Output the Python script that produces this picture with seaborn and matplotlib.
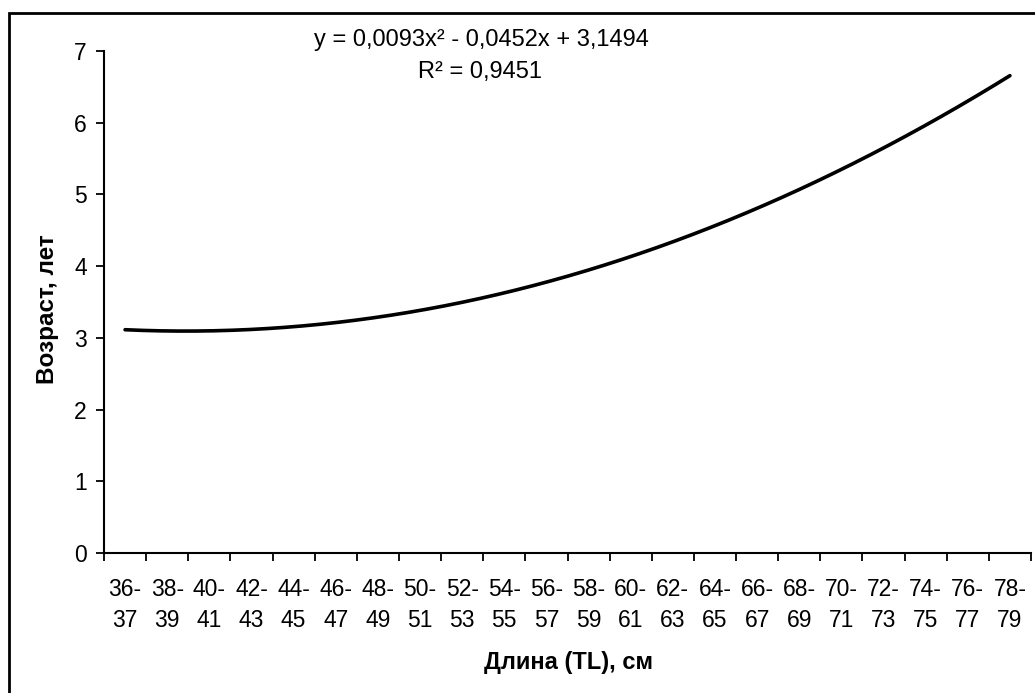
import numpy as np
import pandas as pd
import matplotlib
matplotlib.use("Agg")
import matplotlib.pyplot as plt
from matplotlib.patches import Rectangle
import seaborn as sns

# Length classes (TL, cm) shown on the x axis
length_classes = ["36-\n37", "38-\n39", "40-\n41", "42-\n43", "44-\n45", "46-\n47",
                  "48-\n49", "50-\n51", "52-\n53", "54-\n55", "56-\n57", "58-\n59",
                  "60-\n61", "62-\n63", "64-\n65", "66-\n67", "68-\n69", "70-\n71",
                  "72-\n73", "74-\n75", "76-\n77", "78-\n79"]

# Polynomial trend coefficients (a*x^2 + b*x + c) and fit quality
trend_coefs = [0.0093, -0.0452, 3.1494]
r_squared = 0.9451

y_ticks = [0, 1, 2, 3, 4, 5, 6, 7]

sns.set_theme(style="white")
plt.rcParams["font.family"] = ["Liberation Sans", "DejaVu Sans"]
plt.rcParams["text.color"] = "black"
plt.rcParams["xtick.color"] = "black"
plt.rcParams["ytick.color"] = "black"
plt.rcParams["axes.labelcolor"] = "black"

fig = plt.figure(figsize=(10.35, 6.93), dpi=100)
ax = fig.add_axes([104 / 1035, 1 - 553 / 693, (1031 - 104) / 1035, (553 - 51) / 693])

n = len(length_classes)
xs = np.linspace(1, n, 400)
trend = np.polyval(trend_coefs, xs)
df = pd.DataFrame({"class_idx": xs, "age": trend})
sns.lineplot(data=df, x="class_idx", y="age", ax=ax, color="black", lw=2.6)

ax.set_xlim(0.5, n + 0.5)
ax.set_ylim(0, 7)

# category boundaries carry the tick marks, centres carry the labels
ax.set_xticks(np.arange(0.5, n + 1, 1.0))
ax.set_xticklabels([])
ax.set_xticks(np.arange(1, n + 1), minor=True)
ax.set_xticklabels(length_classes, minor=True, fontsize=16.5, linespacing=1.45,
                   color="black")
ax.tick_params(axis="x", which="major", direction="out", length=5.5, width=1.3,
               color="black", bottom=True)
ax.tick_params(axis="x", which="minor", length=0, pad=18, labelsize=16.5,
               labelcolor="black")

ax.set_yticks(y_ticks)
ax.set_yticklabels([str(v) for v in y_ticks], fontsize=16.5, color="black")
ax.tick_params(axis="y", direction="out", length=5.5, width=1.3, color="black",
               left=True, pad=7, labelcolor="black")

for side in ["top", "right"]:
    ax.spines[side].set_visible(False)
for side in ["left", "bottom"]:
    ax.spines[side].set_color("black")
    ax.spines[side].set_linewidth(1.5)

ax.set_xlabel("")
ax.set_ylabel("")
ax.grid(False)

fig.text(48 / 1035, 1 - 309 / 693, "Возраст, лет", rotation=90, ha="center",
         va="center", fontsize=17.5, fontweight="bold", color="black")
fig.text(568 / 1035, 1 - 662 / 693, "Длина (TL), см", ha="center", va="center",
         fontsize=17, fontweight="bold", color="black")

a, b, c = trend_coefs
eq = "y = {}x\u00b2 - {}x + {}".format(f"{a:.4f}".replace(".", ","),
                                      f"{abs(b):.4f}".replace(".", ","),
                                      f"{c:.4f}".replace(".", ","))
fig.text(481 / 1035, 1 - 40 / 693, eq, ha="center", va="center", fontsize=17,
         color="black")
fig.text(480 / 1035, 1 - 72 / 693, "R\u00b2 = " + f"{r_squared:.4f}".replace(".", ","),
         ha="center", va="center", fontsize=17, color="black")

# outer chart frame
fig.patches.append(Rectangle((9 / 1035, -0.1), 1.2, 1.1 - 13 / 693,
                             transform=fig.transFigure, fill=False,
                             edgecolor="black", lw=2))

fig.savefig("out.png", dpi=100, facecolor="white")
